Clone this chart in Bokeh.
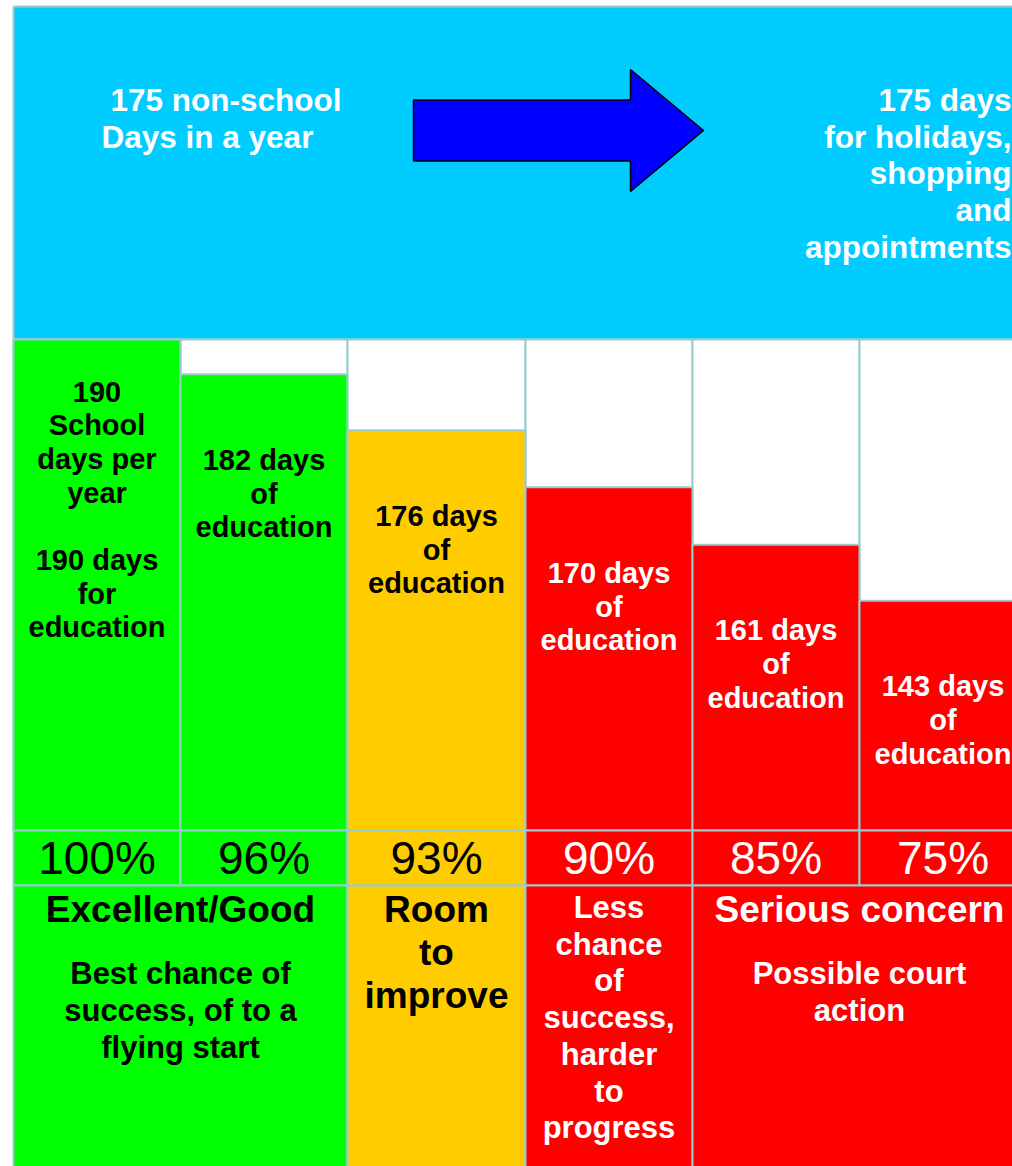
from bokeh.plotting import figure
from bokeh.models import Range1d, ColumnDataSource
from bokeh.core.properties import value
from bokeh.embed import file_html
from bokeh.resources import INLINE

# ---------------- data ----------------
school_days = [190, 182, 176, 170, 161, 143]
attendance = ["100%", "96%", "93%", "90%", "85%", "75%"]
# visual height of each bar, as % of the bar panel (schematic steps in the original)
bar_height_pct = [100, 92.9, 81.5, 69.9, 58.2, 46.8]
bar_labels = [
    "190\nSchool\ndays per\nyear\n\n190 days\nfor\neducation",
    "\n182 days\nof\neducation",
    "\n176 days\nof\neducation",
    "\n170 days\nof\neducation",
    "\n161 days\nof\neducation",
    "\n143 days\nof\neducation",
]
col_colors = ["#00FF00", "#00FF00", "#FFCC00", "#FF0000", "#FF0000", "#FF0000"]
col_text = ["black", "black", "black", "white", "white", "white"]

band_first_col = [0, 2, 3, 4]
band_last_col = [1, 2, 3, 5]
band_titles = ["Excellent/Good", "Room\nto\nimprove", "", "Serious concern"]
band_notes = ["Best chance of\nsuccess, of to a\nflying start", "",
              "Less\nchance\nof\nsuccess,\nharder\nto\nprogress",
              "Possible court\naction"]

top_left_lines = ["175 non-school", "Days in a year"]
top_right_lines = ["175 days", "for holidays,", "shopping", "and", "appointments"]

# ---------------- layout / style ----------------
W, H = 1012, 1166
OX, OY = 0, 0
col_edges = [13, 180, 347, 525, 692, 859, 1026]
Y_TOP, Y_PANEL, Y_PCT, Y_BAND, Y_END = 6, 339, 830, 885, 1185
GRID = "#99CCCC"
FONT = value("Liberation Sans")

p = figure(width=W, height=H, x_range=Range1d(OX, OX + W), y_range=Range1d(OY + H, OY),
           output_backend="svg", toolbar_location=None, min_border=0,
           x_axis_location=None, y_axis_location=None)
p.grid.visible = False
p.outline_line_color = None
p.background_fill_color = "white"
p.border_fill_color = "white"

# bar scale: 0 at bottom of panel, 100 at top of panel
ppu = (Y_PCT - Y_PANEL) / 100.0
r_end = (Y_PCT - OY) / ppu
r_start = r_end - H / ppu
p.extra_y_ranges = {"bars": Range1d(r_start, r_end)}

lefts = col_edges[:-1]
rights = col_edges[1:]
centers = [(a + b) / 2 for a, b in zip(lefts, rights)]

# cyan header
p.quad(left=[col_edges[0]], right=[col_edges[-1] + 20], top=[Y_TOP], bottom=[Y_PANEL],
       fill_color="#00CCFF", line_color=GRID, line_width=2)

# white panel cells
p.quad(left=lefts, right=rights, top=[Y_PANEL] * 6, bottom=[Y_PCT] * 6,
       fill_color="white", line_color=GRID, line_width=2)

# bars
bars = ColumnDataSource(dict(left=lefts, right=rights, top=bar_height_pct,
                             bottom=[0] * 6, color=col_colors))
p.quad(left="left", right="right", top="top", bottom="bottom", source=bars,
       y_range_name="bars", fill_color="color", line_color=GRID, line_width=2)

# percent row
p.quad(left=lefts, right=rights, top=[Y_PCT] * 6, bottom=[Y_BAND] * 6,
       fill_color=col_colors, line_color=GRID, line_width=2)

# bottom bands
p.quad(left=[col_edges[a] for a in band_first_col],
       right=[col_edges[b + 1] for b in band_last_col],
       top=[Y_BAND] * 4, bottom=[Y_END] * 4,
       fill_color=[col_colors[a] for a in band_first_col],
       line_color=GRID, line_width=2)

# arrow
AX0, AX1, ATIP = 413, 630, 703
AYC, SHAFT, HEAD = 130, 30.5, 61
p.patch(x=[AX0, AX1, AX1, ATIP, AX1, AX1, AX0],
        y=[AYC - SHAFT, AYC - SHAFT, AYC - HEAD, AYC, AYC + HEAD, AYC + SHAFT, AYC + SHAFT],
        fill_color="#0000FF", line_color="black", line_width=1.5)

# header texts
TOP_Y0, TOP_LH = 99.5, 36.7
p.text(x=[110, 101], y=[TOP_Y0 + k * TOP_LH for k in range(len(top_left_lines))],
       text=top_left_lines, text_font=FONT, text_font_style="bold",
       text_font_size="31.5px", text_color="white", text_align="left", text_baseline="middle")
p.text(x=[1011] * len(top_right_lines),
       y=[TOP_Y0 + k * TOP_LH for k in range(len(top_right_lines))],
       text=top_right_lines, text_font=FONT, text_font_style="bold",
       text_font_size="31.5px", text_color="white", text_align="right", text_baseline="middle")

# bar texts (anchored to bar tops)
BAR_PAD, BAR_LH = 52, 33.7
bx, by, boff, btxt, bcol = [], [], [], [], []
for i, lab in enumerate(bar_labels):
    for k, line in enumerate(lab.split("\n")):
        if line:
            bx.append(centers[i]); by.append(bar_height_pct[i])
            boff.append(BAR_PAD + k * BAR_LH); btxt.append(line); bcol.append(col_text[i])
p.text(x="x", y="y", text="t", y_offset="off", text_color="c",
       source=ColumnDataSource(dict(x=bx, y=by, off=boff, t=btxt, c=bcol)),
       y_range_name="bars", text_font=FONT, text_font_style="bold",
       text_font_size="29px", text_align="center", text_baseline="middle")

# percent texts
p.text(x=centers, y=[857] * 6, text=attendance, text_color=col_text,
       text_font=FONT, text_font_size="46px", text_align="center", text_baseline="middle")

# band texts
TITLE_Y, TITLE_LH = 908.5, 43
NOTE_Y_AFTER_TITLE, NOTE_Y_ALONE, NOTE_LH = 973.3, 907, 36.7
tx, ty, tt, tc = [], [], [], []
nx, ny, nt, nc = [], [], [], []
for j in range(4):
    cx = (col_edges[band_first_col[j]] + col_edges[band_last_col[j] + 1]) / 2
    color = col_text[band_first_col[j]]
    tl = [s for s in band_titles[j].split("\n") if s]
    for k, line in enumerate(tl):
        tx.append(cx); ty.append(TITLE_Y + k * TITLE_LH); tt.append(line); tc.append(color)
    y0 = NOTE_Y_AFTER_TITLE if tl else NOTE_Y_ALONE
    for k, line in enumerate([s for s in band_notes[j].split("\n") if s]):
        nx.append(cx); ny.append(y0 + k * NOTE_LH); nt.append(line); nc.append(color)
p.text(x=tx, y=ty, text=tt, text_color=tc, text_font=FONT, text_font_style="bold",
       text_font_size="37px", text_align="center", text_baseline="middle")
p.text(x=nx, y=ny, text=nt, text_color=nc, text_font=FONT, text_font_style="bold",
       text_font_size="31px", text_align="center", text_baseline="middle")

open("out.html", "w").write(file_html(p, INLINE))
